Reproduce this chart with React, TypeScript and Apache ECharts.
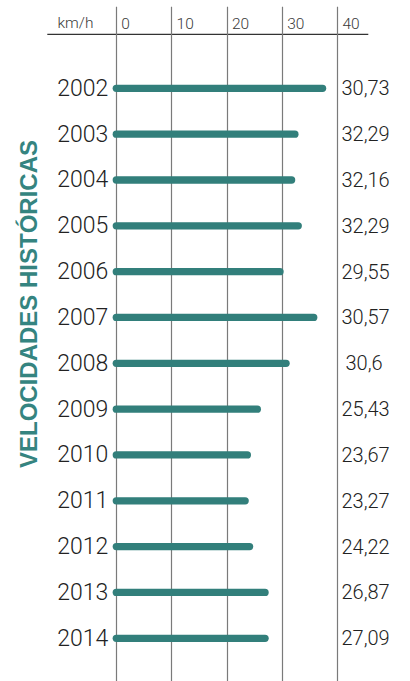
import React, { useEffect, useRef } from "react";
import * as echarts from "echarts";

const years = ["2002", "2003", "2004", "2005", "2006", "2007", "2008", "2009", "2010", "2011", "2012", "2013", "2014"];
// bar lengths as drawn in the picture (km/h)
const barValues = [37.3, 32.3, 31.7, 32.9, 29.6, 35.7, 30.7, 25.5, 23.7, 23.3, 24.1, 26.9, 26.9];
// printed value labels
const valueLabels = ["30,73", "32,29", "32,16", "32,29", "29,55", "30,57", "30,6", "25,43", "23,67", "23,27", "24,22", "26,87", "27,09"];
const axisMin = 0;
const axisMax = 40;
const axisStep = 10;
const unitLabel = "km/h";
const title = "VELOCIDADES HISTÓRICAS";

const TEAL = "#327f7b";
const FONT = "'Liberation Sans', Arial, Helvetica, sans-serif";
const LIGHT = "Roboto, 'Liberation Sans', Arial, sans-serif";

export default function App() {
  const ref = useRef<HTMLDivElement>(null);
  useEffect(() => {
    if (!ref.current) return;
    const chart = echarts.init(ref.current, undefined, { renderer: "svg" });
    const gl = 116.3;
    const gr = 72.5;
    chart.setOption({
      animation: false,
      backgroundColor: "#ffffff",
      textStyle: { fontFamily: FONT },
      grid: [
        { left: gl, right: gr, top: 6.7, bottom: 0 },
        { left: gl, right: gr, top: 65.4, bottom: 19.8 },
      ],
      xAxis: [
        {
          gridIndex: 0,
          type: "value",
          position: "top",
          min: axisMin,
          max: axisMax,
          interval: axisStep,
          axisLine: { show: false },
          axisTick: { show: false },
          splitLine: { show: true, lineStyle: { color: "#7a7a7a", width: 1.2 } },
          axisLabel: {
            inside: true,
            margin: 9,
            align: "left",
            verticalAlign: "top",
            padding: [0, 0, 0, 5],
            fontSize: 15.5,
            fontWeight: 300,
            color: "#3a3a3a",
            fontFamily: LIGHT,
            showMinLabel: true,
            showMaxLabel: true,
          },
        },
        {
          gridIndex: 1,
          type: "value",
          min: axisMin,
          max: axisMax,
          show: false,
        },
      ],
      yAxis: [
        { gridIndex: 0, type: "value", show: false },
        {
          gridIndex: 1,
          type: "category",
          inverse: true,
          data: years,
          axisLine: { show: false },
          axisTick: { show: false },
          splitLine: { show: false },
          axisLabel: { margin: 8, fontSize: 23, fontWeight: 300, color: "#222", fontFamily: LIGHT },
        },
        {
          gridIndex: 1,
          type: "category",
          inverse: true,
          position: "right",
          data: valueLabels,
          axisLine: { show: false },
          axisTick: { show: false },
          splitLine: { show: false },
          axisLabel: {
            margin: 4,
            align: "left",
            fontSize: 20,
            fontWeight: 300,
            color: "#222",
            fontFamily: LIGHT,
            formatter: (v: string) => (v === "30,6" ? "{p|" + v + "}" : v),
            rich: { p: { padding: [0, 0, 0, 4], fontSize: 20, fontWeight: 300, color: "#222", fontFamily: LIGHT } },
          },
        },
      ],
      series: [
        {
          type: "custom",
          xAxisIndex: 1,
          yAxisIndex: 1,
          data: barValues.map((v, i) => [v, years[i]]),
          encode: { x: 0, y: 1 },
          renderItem: (params: any, api: any) => {
            const cat = api.value(1);
            const s = api.coord([0, cat]);
            const e = api.coord([api.value(0), cat]);
            return {
              type: "line",
              shape: { x1: s[0], y1: s[1], x2: e[0], y2: e[1] },
              style: { stroke: TEAL, lineWidth: 7.3, lineCap: "round" },
            };
          },
        },
      ],
      graphic: [
        {
          type: "line",
          shape: { x1: 47.3, y1: 34.3, x2: 368.3, y2: 34.3 },
          style: { stroke: "#333", lineWidth: 1.2 },
        },
        {
          type: "text",
          x: 57.5,
          y: 22.8,
          style: {
            text: unitLabel,
            fontSize: 15.5,
            fontWeight: 300,
            fill: "#3a3a3a",
            fontFamily: LIGHT,
            verticalAlign: "middle",
            align: "left",
          },
        },
        {
          type: "text",
          x: 28,
          y: 304,
          rotation: Math.PI / 2,
          style: {
            text: title,
            fontSize: 24,
            fontWeight: "bold",
            fill: "#358480",
            fontFamily: FONT,
            align: "center",
            verticalAlign: "middle",
          },
        },
      ],
    });
    return () => chart.dispose();
  }, []);
  return <div ref={ref} style={{ position: "fixed", left: 0, top: 0, width: 410, height: 681 }} />;
}
